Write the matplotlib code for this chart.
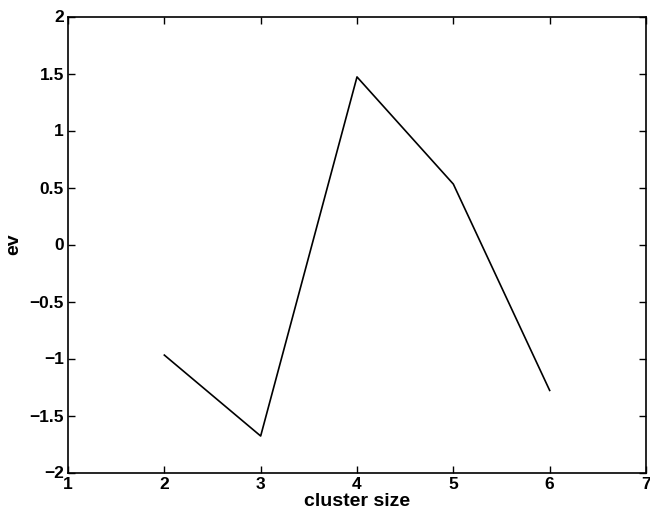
import matplotlib
matplotlib.use("Agg")
import matplotlib.pyplot as plt

cluster_size = [2, 3, 4, 5, 6]
ev = [-0.97, -1.68, 1.47, 0.53, -1.28]
xticks = [1, 2, 3, 4, 5, 6, 7]
yticks = [-2, -1.5, -1, -0.5, 0, 0.5, 1, 1.5, 2]
ytick_labels = ["\u22122", "\u22121.5", "\u22121", "\u22120.5", "0", "0.5", "1", "1.5", "2"]

plt.rcParams['font.family'] = ['Liberation Sans', 'DejaVu Sans']
plt.rcParams['font.weight'] = 'bold'

fs = 12.5
fl = 14
fig = plt.figure(figsize=(6.5, 5.12), dpi=100)
ax = fig.add_axes([68/650, 1 - 472.5/512, (646 - 68)/650, (472.5 - 16.5)/512])
ax.plot(cluster_size, ev, color='black', linewidth=1.2)
ax.set_xlim(1, 7)
ax.set_ylim(-2, 2)
ax.set_xticks(xticks)
ax.set_xticklabels([str(v) for v in xticks], fontsize=fs, fontweight='bold')
ax.set_yticks(yticks)
ax.set_yticklabels(ytick_labels, fontsize=fs, fontweight='bold')
ax.tick_params(direction='in', top=True, right=True, length=5, width=1, pad=3)
for s in ax.spines.values():
    s.set_linewidth(1.2)
ax.set_xlabel('cluster size', fontsize=fl, fontweight='bold', labelpad=1)
ax.set_ylabel('ev', fontsize=fl, fontweight='bold', labelpad=5)
fig.savefig('out.png', dpi=100)
